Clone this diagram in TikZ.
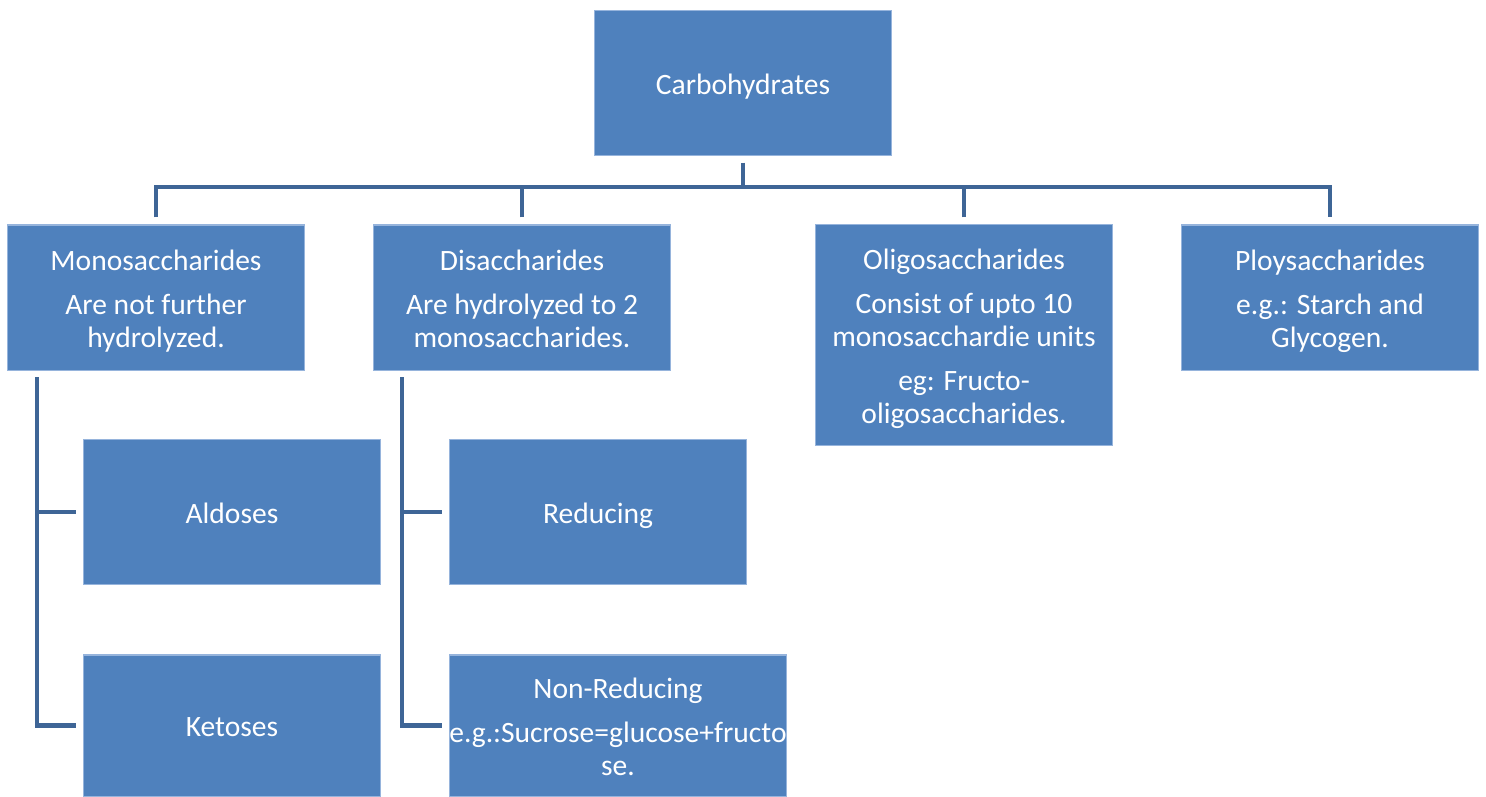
\documentclass[tikz,border=0pt]{standalone}
\usepackage{fontspec}
\setmainfont{Carlito}
\usetikzlibrary{positioning}
\definecolor{boxblue}{RGB}{79,129,189}
\definecolor{linkblue}{RGB}{62,101,150}
\definecolor{edgeblue}{RGB}{150,180,220}
\newcommand{\hdstrut}{\rule{0pt}{8.7pt}}

\tikzset{
  catbox/.style={draw=edgeblue,line width=0.3pt,fill=boxblue,text=white,
    minimum width=2.96cm,minimum height=1.45cm,align=center,inner sep=0pt,
    font=\fontsize{8.4}{9.4}\selectfont,
    execute at begin node=\rule{0pt}{8.5pt},
    execute at end node=\rule[-2.2pt]{0pt}{2.2pt}},
  link/.style={draw=linkblue,line width=1.3pt}
}

\begin{document}
\begin{tikzpicture}[x=0.01cm,y=-0.01cm]
  \useasboundingbox (0,0) rectangle (1486,796);
  % top level
  \node[catbox,minimum height=1.44cm] (carb) at (743,83) {Carbohydrates};
  \node[catbox] (mono) at (156,297.5) {\hdstrut Monosaccharides\\[3.2pt]Are not further\\hydrolyzed.};
  \node[catbox] (di) at (522,297.5) {\hdstrut Disaccharides\\[3.2pt]Are hydrolyzed to 2\\monosaccharides.};
  \node[catbox,minimum height=2.2cm] (oligo) at (964,335) {\hdstrut Oligosaccharides\\[3.2pt]Consist of upto 10\\monosacchardie units\\[3.2pt]eg: Fructo-\\oligosaccharides.};
  \node[catbox] (poly) at (1330,297.5) {\hdstrut Ploysaccharides\\[3.2pt]e.g.: Starch and\\Glycogen.};
  % second level
  \node[catbox] (aldo) at (232,512) {Aldoses};
  \node[catbox,minimum height=1.41cm] (keto) at (232,725.5) {Ketoses};
  \node[catbox] (red) at (598,512) {Reducing};
  \node[catbox,minimum width=3.36cm,minimum height=1.41cm] (nonred) at (618,725.5) {\hdstrut Non-Reducing\\[3.2pt]e.g.:Sucrose=glucose+fructo\\se.};

  % connectors
  \coordinate (bus) at (743,187);
  \draw[link] ([yshift=-0.07cm]carb.south) -- (bus);
  \draw[link] ([yshift=0.07cm]mono.north) |- (bus) -| ([yshift=0.07cm]poly.north);
  \draw[link] ([yshift=0.07cm]di.north) -- (di.north |- bus);
  \draw[link] ([yshift=0.07cm]oligo.north) -- (oligo.north |- bus);

  \coordinate (mtop) at (37,377);
  \draw[link] (mtop) |- ([xshift=-0.07cm]keto.west);
  \draw[link] (mtop |- aldo.west) -- ([xshift=-0.07cm]aldo.west);
  \coordinate (dtop) at (402,377);
  \draw[link] (dtop) |- ([xshift=-0.07cm]nonred.west);
  \draw[link] (dtop |- red.west) -- ([xshift=-0.07cm]red.west);
\end{tikzpicture}
\end{document}
